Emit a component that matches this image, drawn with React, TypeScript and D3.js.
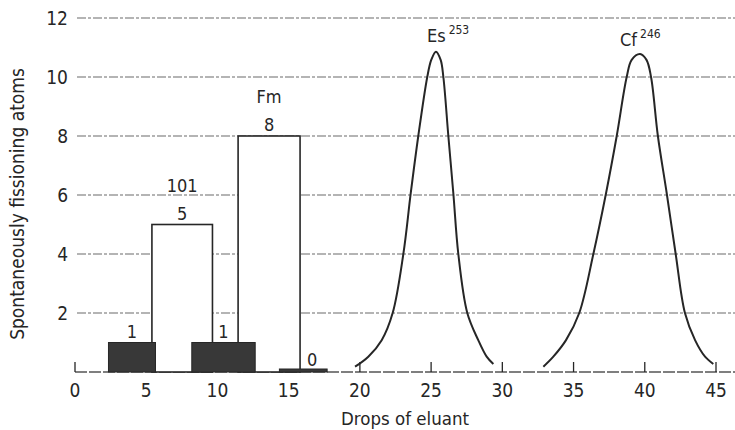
import React from 'react'
import * as d3 from 'd3'

// drops of eluant (x) vs spontaneously fissioning atoms (y)
const xTicks = [0, 5, 10, 15, 20, 25, 30, 35, 40, 45]
const yTicks = [2, 4, 6, 8, 10, 12]

// open bars: element fractions
const openBars = [
  { x0: 5.4, x1: 9.65, count: 5, element: '101' },
  { x0: 11.45, x1: 15.8, count: 8, element: 'Fm' },
]

// shaded bars
const shadedBars = [
  { x0: 2.35, x1: 5.65, count: 1 },
  { x0: 8.2, x1: 12.65, count: 1 },
  { x0: 14.35, x1: 17.7, count: 0 },
]

// elution peaks, points
const esDrops = [19.66, 20.59, 21.53, 22.3, 23.05, 23.57, 24.1, 24.73, 25.01, 25.34, 25.67, 25.86, 26.21, 26.56, 26.91, 27.54, 28.31, 28.9, 29.37]
const esAtoms = [0.18, 0.52, 1.08, 2, 4, 6.06, 8, 10, 10.58, 10.86, 10.58, 10, 8, 6.06, 4, 2, 1.08, 0.52, 0.27]
const cfDrops = [32.88, 33.58, 34.47, 35.4, 36.39, 37.28, 38.03, 38.73, 39.08, 39.67, 40.12, 40.44, 40.92, 41.54, 42.17, 42.82, 43.53, 44.23, 44.81]
const cfAtoms = [0.18, 0.52, 1.08, 2, 4, 6.06, 8, 10, 10.58, 10.78, 10.58, 10, 8, 6.06, 4, 2, 1.08, 0.52, 0.27]

const peaks = [
  { name: 'Es', mass: '253', drops: esDrops, atoms: esAtoms, dx: -9, dy: -10 },
  { name: 'Cf', mass: '246', drops: cfDrops, atoms: cfAtoms, dx: -20, dy: -8 },
]

const W = 735
const H = 430
const FONT = "'Liberation Sans Narrow', 'DejaVu Sans Condensed', 'Liberation Sans', sans-serif"
const INK = '#262626'

export default function App() {
  const x = d3.scaleLinear().domain([0, 45]).range([75, 716])
  const y = d3.scaleLinear().domain([0, 12]).range([372, 18])

  const line = d3.line<[number, number]>()
    .x((d) => x(d[0]))
    .y((d) => y(d[1]))
    .curve(d3.curveCatmullRom.alpha(0.5))

  return (
    <svg width={W} height={H} style={{ position: 'absolute', left: 0, top: 0, background: '#fff' }} fontFamily={FONT}>
      {/* grid */}
      {yTicks.map((t) => (
        <line key={t} x1={77} x2={W} y1={y(t)} y2={y(t)} stroke="#6a6a6a" strokeWidth={1.1} strokeDasharray="9 2 3 2" />
      ))}
      {/* baseline */}
      <line x1={x(0)} x2={W} y1={y(0)} y2={y(0)} stroke="#555" strokeWidth={1.5} strokeDasharray="12 2" />
      {xTicks.map((t) => (
        <g key={t}>
          <line x1={x(t)} x2={x(t)} y1={y(0)} y2={y(0) - 10} stroke={INK} strokeWidth={1.3} />
          <text x={x(t)} y={y(0) + 25} textAnchor="middle" fontSize={19} fill={INK}>{t}</text>
        </g>
      ))}
      {yTicks.map((t) => (
        <text key={t} x={68} y={y(t) + 7} textAnchor="end" fontSize={19} fill={INK}>{t}</text>
      ))}

      {/* open bars */}
      {openBars.map((b) => (
        <g key={b.element}>
          <rect x={x(b.x0)} y={y(b.count)} width={x(b.x1) - x(b.x0)} height={y(0) - y(b.count)}
            fill="#fff" stroke={INK} strokeWidth={1.6} />
          <text x={(x(b.x0) + x(b.x1)) / 2} y={y(b.count) - 5} textAnchor="middle" fontSize={18} fill={INK}>{b.count}</text>
          <text x={(x(b.x0) + x(b.x1)) / 2} y={y(b.count) - 33} textAnchor="middle" fontSize={18} fill={INK}>{b.element}</text>
        </g>
      ))}

      {/* shaded bars */}
      {shadedBars.map((b, i) => {
        const top = b.count > 0 ? y(b.count) : y(0) - 3
        const cx = (x(b.x0) + x(b.x1)) / 2
        return (
          <g key={i}>
            <rect x={x(b.x0)} y={top} width={x(b.x1) - x(b.x0)} height={y(0) - top} fill="#383838" stroke={INK} strokeWidth={1} />
            <text x={b.count > 0 ? cx : cx + 9} y={b.count > 0 ? top - 5 : top - 3} textAnchor="middle" fontSize={18} fill={INK}>{b.count}</text>
          </g>
        )
      })}

      {/* peaks */}
      {peaks.map((p) => {
        const pts = p.drops.map((d, i) => [d, p.atoms[i]] as [number, number])
        const top = pts.reduce((a, b) => (b[1] > a[1] ? b : a))
        return (
          <g key={p.name}>
            <path d={line(pts) ?? ''} fill="none" stroke={INK} strokeWidth={2} />
            <text x={x(top[0]) + p.dx} y={y(top[1]) + p.dy} fontSize={18} fill={INK}>
              {p.name}
              <tspan fontSize={12} dx={3} dy={-8}>{p.mass}</tspan>
            </text>
          </g>
        )
      })}

      {/* axis titles */}
      <text x={405} y={425} textAnchor="middle" fontSize={18.5} fill={INK}>Drops of eluant</text>
      <text transform={`translate(24,${204}) rotate(-90)`} textAnchor="middle" fontSize={19} fill={INK}>
        Spontaneously fissioning atoms
      </text>
    </svg>
  )
}
